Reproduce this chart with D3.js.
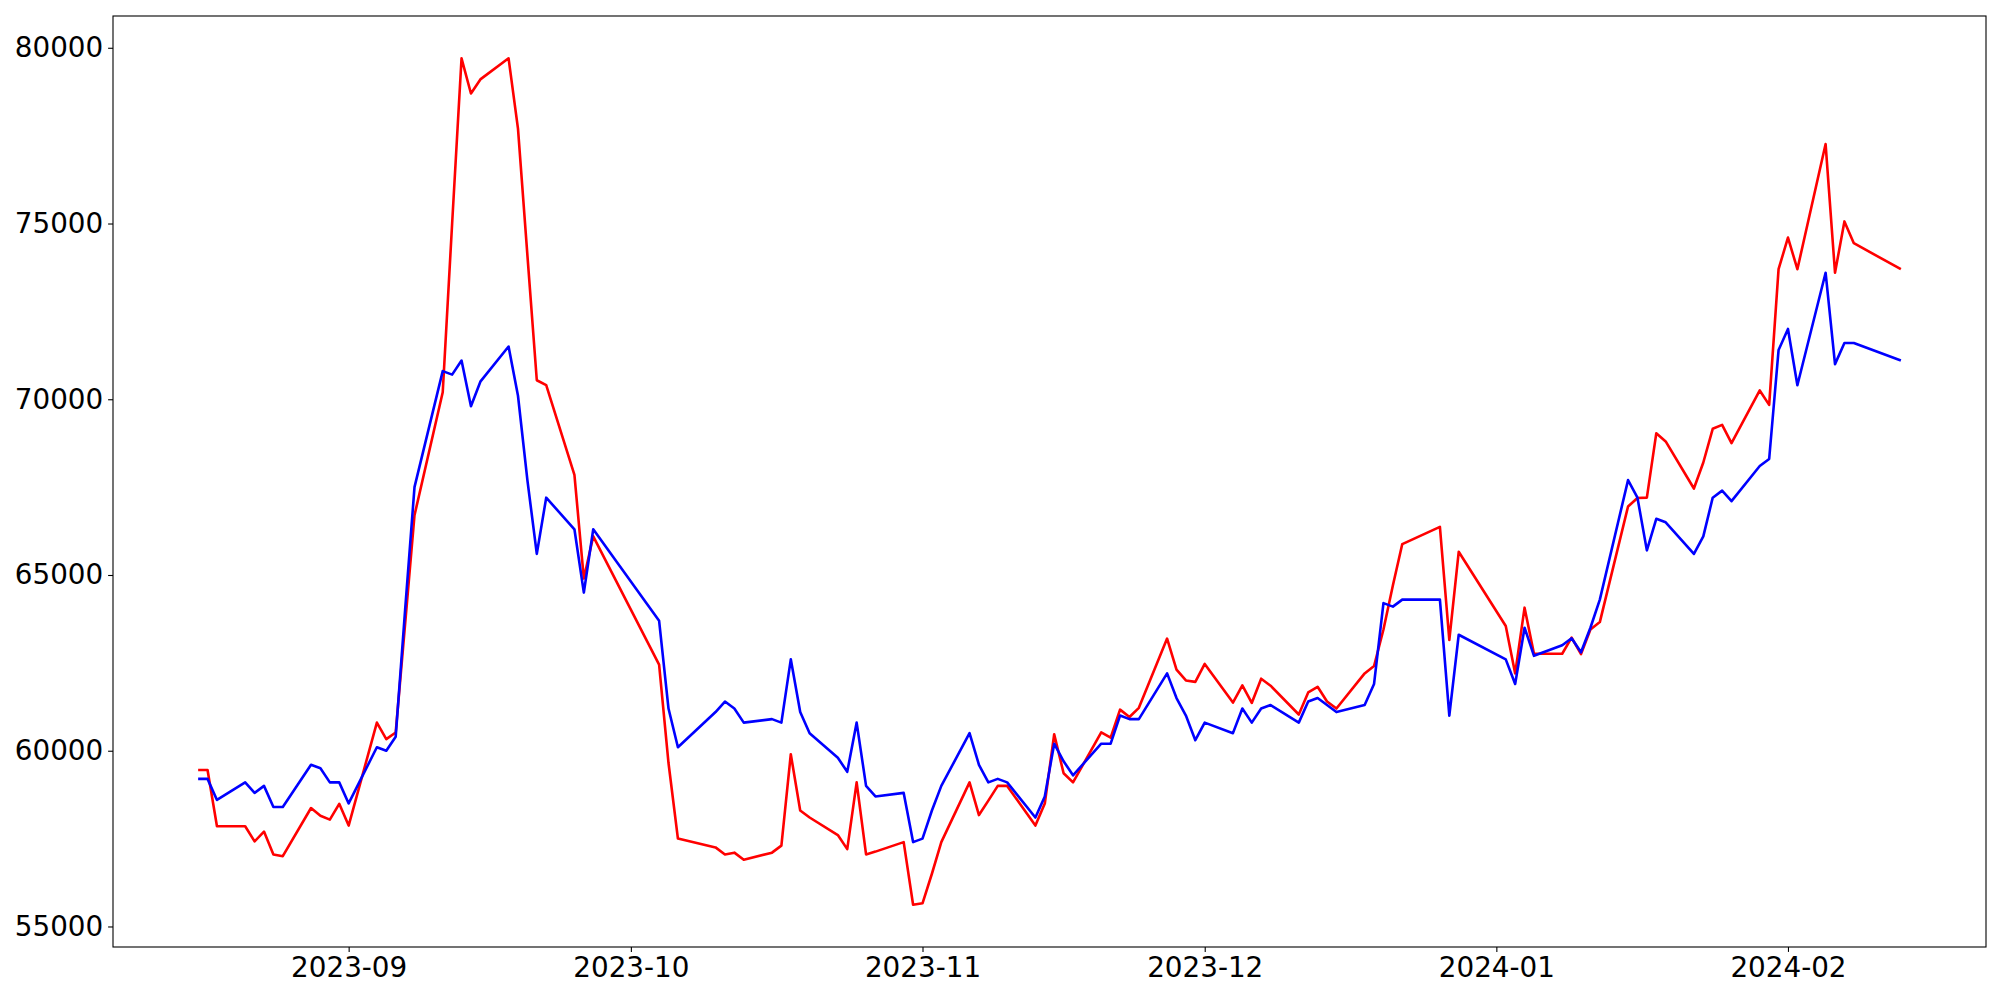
<!DOCTYPE html>
<html>
<head>
<meta charset="utf-8">
<script src="https://cdn.jsdelivr.net/npm/d3@7"></script>
<style>
  html, body { margin: 0; padding: 0; background: #ffffff; }
  svg { display: block; }
  .tick text { font-family: "DejaVu Sans", sans-serif; font-size: 27.8px; fill: #000; }
</style>
</head>
<body>
<svg id="chart" width="2000" height="1000"></svg>
<script>
const dates = [
  "2023-08-16","2023-08-17","2023-08-18","2023-08-21","2023-08-22","2023-08-23","2023-08-24","2023-08-25","2023-08-28","2023-08-29","2023-08-30","2023-08-31",
  "2023-09-01","2023-09-04","2023-09-05","2023-09-06","2023-09-07","2023-09-08","2023-09-11","2023-09-12","2023-09-13","2023-09-14","2023-09-15","2023-09-18","2023-09-19","2023-09-20","2023-09-21","2023-09-22","2023-09-25","2023-09-26","2023-09-27",
  "2023-10-04","2023-10-05","2023-10-06","2023-10-10","2023-10-11","2023-10-12","2023-10-13","2023-10-16","2023-10-17","2023-10-18","2023-10-19","2023-10-20","2023-10-23","2023-10-24","2023-10-25","2023-10-26","2023-10-27","2023-10-30","2023-10-31",
  "2023-11-01","2023-11-02","2023-11-03","2023-11-06","2023-11-07","2023-11-08","2023-11-09","2023-11-10","2023-11-13","2023-11-14","2023-11-15","2023-11-16","2023-11-17","2023-11-20","2023-11-21","2023-11-22","2023-11-23","2023-11-24","2023-11-27","2023-11-28","2023-11-29","2023-11-30",
  "2023-12-01","2023-12-04","2023-12-05","2023-12-06","2023-12-07","2023-12-08","2023-12-11","2023-12-12","2023-12-13","2023-12-14","2023-12-15","2023-12-18","2023-12-19","2023-12-20","2023-12-21","2023-12-22","2023-12-26","2023-12-27","2023-12-28",
  "2024-01-02","2024-01-03","2024-01-04","2024-01-05","2024-01-08","2024-01-09","2024-01-10","2024-01-11","2024-01-12","2024-01-15","2024-01-16","2024-01-17","2024-01-18","2024-01-19","2024-01-22","2024-01-23","2024-01-24","2024-01-25","2024-01-26","2024-01-29","2024-01-30","2024-01-31",
  "2024-02-01","2024-02-02","2024-02-05","2024-02-06","2024-02-07","2024-02-08","2024-02-13"
];

const redValues = [
  59450, 59450, 57850, 57850, 57420, 57700, 57050, 57000, 58370, 58150, 58040, 58490,
  57870, 60800, 60330, 60520, 63600, 66700, 70200, 75000, 79700, 78700, 79100, 79700, 77700, 74100, 70540, 70400, 67850, 64900, 66100,
  62450, 59650, 57500, 57250, 57050, 57100, 56900, 57100, 57300, 59900, 58300, 58100, 57600, 57200, 59100, 57050, 57130, 57400, 55620,
  55660, 56500, 57400, 59100, 58170, 58580, 59000, 59000, 57870, 58500, 60470, 59360, 59100, 60520, 60370, 61170, 60960, 61220, 63190, 62310, 62000, 61960,
  62470, 61370, 61860, 61360, 62050, 61850, 61030, 61660, 61820, 61400, 61200, 62200, 62410, 63450, 64700, 65880, 66370, 63150, 65660,
  63550, 62200, 64070, 62760, 62760, 63220, 62750, 63450, 63660, 66950, 67190, 67200, 69030, 68800, 67460, 68200, 69160, 69270, 68750, 70250, 69840, 73700,
  74600, 73700, 77260, 73600, 75060, 74440, 73700
];

const blueValues = [
  59200, 59200, 58600, 59100, 58800, 59000, 58400, 58400, 59600, 59500, 59100, 59100,
  58500, 60100, 60000, 60400, 64000, 67500, 70800, 70700, 71100, 69800, 70500, 71500, 70100, 67700, 65600, 67200, 66300, 64500, 66300,
  63700, 61200, 60100, 61100, 61400, 61200, 60800, 60900, 60800, 62600, 61100, 60500, 59800, 59400, 60800, 59000, 58700, 58800, 57400,
  57500, 58300, 59000, 60500, 59600, 59100, 59200, 59100, 58100, 58700, 60200, 59700, 59300, 60200, 60200, 61000, 60900, 60900, 62200, 61500, 61000, 60300,
  60800, 60500, 61200, 60800, 61200, 61300, 60800, 61400, 61500, 61300, 61100, 61300, 61900, 64200, 64100, 64300, 64300, 61000, 63300,
  62600, 61900, 63500, 62700, 63000, 63200, 62800, 63500, 64300, 67700, 67200, 65700, 66600, 66500, 65600, 66100, 67200, 67400, 67100, 68100, 68300, 71400,
  72000, 70400, 73600, 71000, 71600, 71600, 71100
];

const yTickValues = [55000, 60000, 65000, 70000, 75000, 80000];
const xTickLabels = ["2023-09", "2023-10", "2023-11", "2023-12", "2024-01", "2024-02"];

const W = 2000, H = 1000;
const margin = { left: 113, right: 14, top: 16, bottom: 53 };
const iw = W - margin.left - margin.right;
const ih = H - margin.top - margin.bottom;

const parse = d3.utcParse("%Y-%m-%d");
const parseMonth = d3.utcParse("%Y-%m");
const xs = dates.map(parse);

const xExt = d3.extent(xs);
const xPad = (xExt[1] - xExt[0]) * 0.05;
const x = d3.scaleUtc()
  .domain([new Date(+xExt[0] - xPad), new Date(+xExt[1] + xPad)])
  .range([0, iw]);

const allVals = redValues.concat(blueValues);
const yMin = d3.min(allVals), yMax = d3.max(allVals);
const yPad = (yMax - yMin) * 0.05;
const y = d3.scaleLinear()
  .domain([yMin - yPad, yMax + yPad])
  .range([ih, 0]);

const svg = d3.select("#chart");
svg.append("rect").attr("width", W).attr("height", H).attr("fill", "#fff");
const g = svg.append("g").attr("transform", `translate(${margin.left},${margin.top})`);

const line = d3.line()
  .x((d, i) => x(xs[i]))
  .y(d => y(d));

g.append("path")
  .datum(redValues)
  .attr("fill", "none")
  .attr("stroke", "#ff0000")
  .attr("stroke-width", 2.6)
  .attr("stroke-linejoin", "round")
  .attr("d", line);

g.append("path")
  .datum(blueValues)
  .attr("fill", "none")
  .attr("stroke", "#0000ff")
  .attr("stroke-width", 2.6)
  .attr("stroke-linejoin", "round")
  .attr("d", line);

const xAxis = d3.axisBottom(x)
  .tickValues(xTickLabels.map(parseMonth))
  .tickFormat(d3.utcFormat("%Y-%m"))
  .tickSizeInner(4.9).tickSizeOuter(0).tickPadding(4.9);

const yAxis = d3.axisLeft(y)
  .tickValues(yTickValues)
  .tickFormat(d3.format("d"))
  .tickSizeInner(4.9).tickSizeOuter(0).tickPadding(4.9);

const gx = g.append("g").attr("transform", `translate(0,${ih})`).call(xAxis);
const gy = g.append("g").call(yAxis);
[gx, gy].forEach(a => {
  a.select(".domain").remove();
  a.selectAll(".tick line").attr("stroke", "#000").attr("stroke-width", 1.1);
});

g.append("rect")
  .attr("x", 0).attr("y", 0).attr("width", iw).attr("height", ih)
  .attr("fill", "none").attr("stroke", "#000").attr("stroke-width", 1.1);
</script>
</body>
</html>
